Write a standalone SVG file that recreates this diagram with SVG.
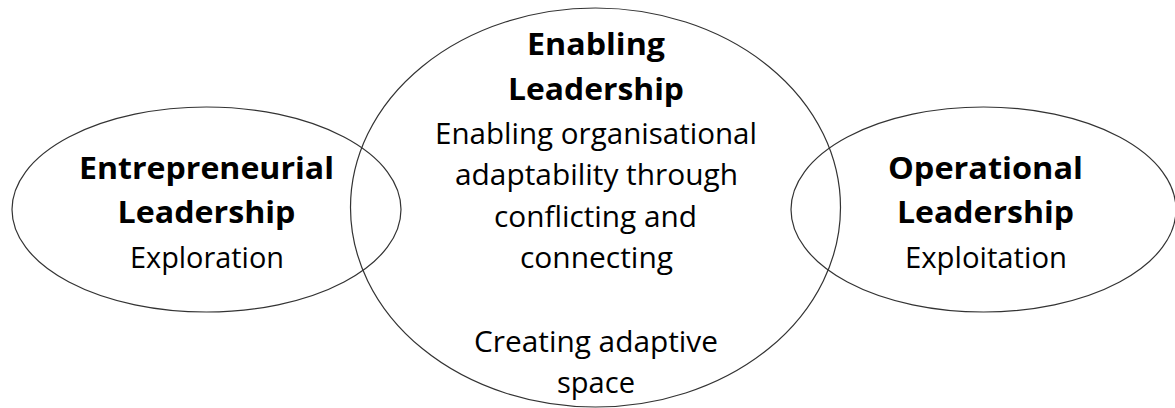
<svg xmlns="http://www.w3.org/2000/svg" width="1175" height="408" viewBox="0 0 1175 408">
<style>
.shape{fill:none;stroke:#333;stroke-width:1.2}
text{font-family:"Open Sans",Lato,sans-serif;fill:#000;text-anchor:middle;font-variant-ligatures:none}
.b{font-weight:bold;font-size:31px}
.r{font-size:29px}
</style>
<rect width="1175" height="408" fill="#fff"/>
<g id="entrepreneurial">
<ellipse class="shape" cx="206.5" cy="209.5" rx="194.5" ry="102.5"/>
<text class="b" x="206.5" y="179" textLength="255" lengthAdjust="spacingAndGlyphs">Entrepreneurial</text>
<text class="b" x="206.5" y="223" textLength="178" lengthAdjust="spacingAndGlyphs">Leadership</text>
<text class="r" x="207" y="268" textLength="154" lengthAdjust="spacingAndGlyphs">Exploration</text>
</g>
<g id="enabling">
<ellipse class="shape" cx="595.5" cy="207.5" rx="245" ry="199.5"/>
<text class="b" x="596" y="55" textLength="138" lengthAdjust="spacingAndGlyphs">Enabling</text>
<text class="b" x="596" y="100" textLength="176" lengthAdjust="spacingAndGlyphs">Leadership</text>
<text class="r" x="596" y="144" textLength="322" lengthAdjust="spacingAndGlyphs">Enabling organisational</text>
<text class="r" x="596.5" y="185" textLength="283" lengthAdjust="spacingAndGlyphs">adaptability through</text>
<text class="r" x="595.5" y="227" textLength="203" lengthAdjust="spacingAndGlyphs">conflicting and</text>
<text class="r" x="596.5" y="268" textLength="153" lengthAdjust="spacingAndGlyphs">connecting</text>
<text class="r" x="596" y="352" textLength="244" lengthAdjust="spacingAndGlyphs">Creating adaptive</text>
<text class="r" x="596" y="393" textLength="78" lengthAdjust="spacingAndGlyphs">space</text>
</g>
<g id="operational">
<ellipse class="shape" cx="983.5" cy="209.5" rx="192.5" ry="102.5"/>
<text class="b" x="985.5" y="179" textLength="195" lengthAdjust="spacingAndGlyphs">Operational</text>
<text class="b" x="985.5" y="223" textLength="177" lengthAdjust="spacingAndGlyphs">Leadership</text>
<text class="r" x="986" y="268" textLength="162" lengthAdjust="spacingAndGlyphs">Exploitation</text>
</g>
<g id="connectors"></g>
</svg>
